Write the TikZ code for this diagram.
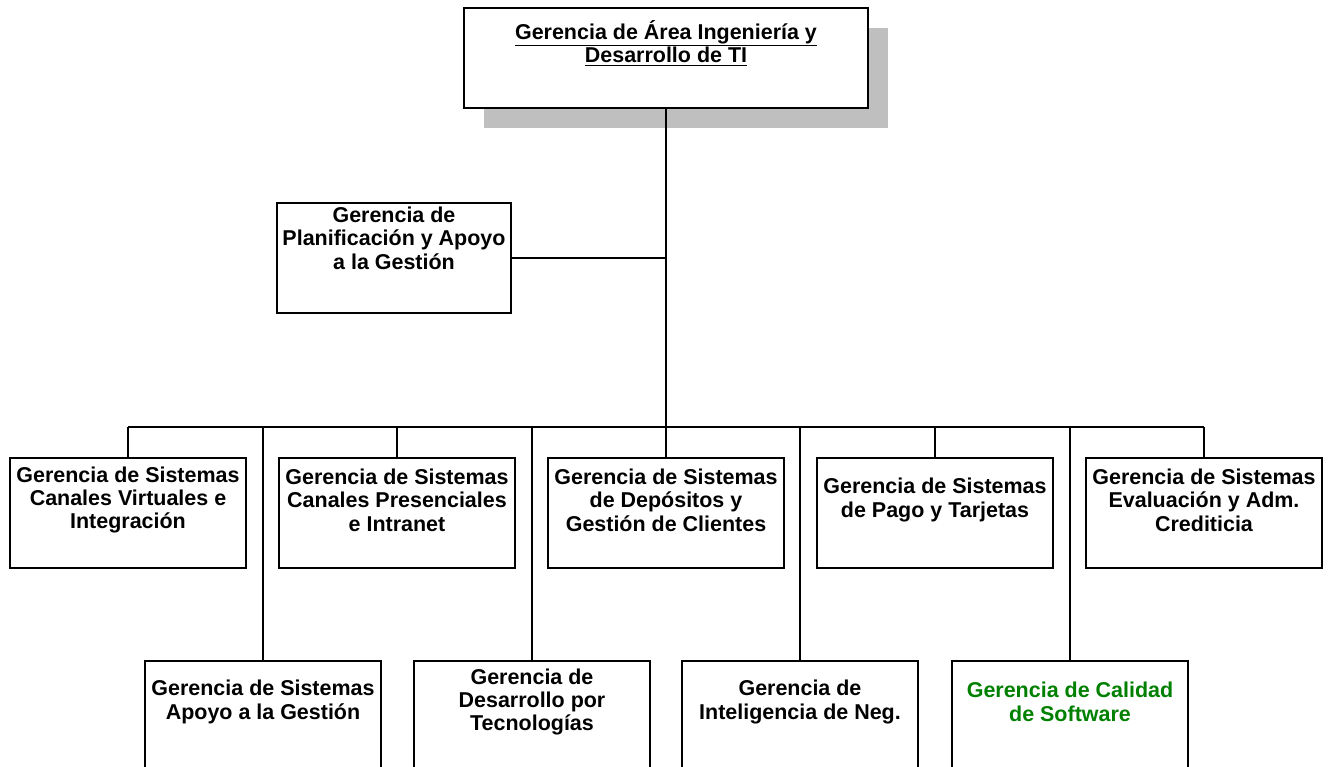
\documentclass[tikz,border=0pt]{standalone}
\usepackage{fontspec}
\setmainfont{Liberation Sans}
\newlength{\pxu}\setlength{\pxu}{0.75pt}
\begin{document}
\begin{tikzpicture}[x=0.75pt,y=-0.75pt,
  box/.style={draw=black,line width=1.5pt,fill=white,rectangle,inner sep=0pt},
  rowone/.style={box,minimum width=236\pxu,minimum height=110\pxu},
  rowtwo/.style={box,minimum width=236\pxu,minimum height=112\pxu},
  txt/.style={align=center,font=\fontsize{16.1}{17.6}\selectfont\bfseries,inner sep=0pt},
  conn/.style={draw=black,line width=1.5pt},
  shadowbox/.style={fill=black!25,draw=none}]
\useasboundingbox (0,0) rectangle (1332,767);
\clip (0,0) rectangle (1332,767);
% shadow and top box
\fill[shadowbox] (484,28) rectangle (888,128);
\node[box,minimum width=404\pxu,minimum height=100\pxu] (top) at (666,58) {};
\node[txt,anchor=center] (toptxt) at (666,43) {\underline{Gerencia de Área Ingeniería y}\\\underline{Desarrollo de TI}};
% planning
\node[box,minimum width=234\pxu,minimum height=110\pxu] (plan) at (394,258) {};
\node[txt] (plantxt) at (394,238) {Gerencia de\\Planificación y Apoyo\\a la Gestión};
% bus
\coordinate (bus) at (666,427);
\coordinate (busL) at (128,427);
\coordinate (busR) at (1204,427);
% row one
\node[rowone] (r1) at (128,513) {};
\node[rowone] (r2) at (397,513) {};
\node[rowone] (r3) at (666,513) {};
\node[rowone] (r4) at (935,513) {};
\node[rowone] (r5) at (1204,513) {};
\node[txt] (t1) at (128,500) {Gerencia de Sistemas\\Canales Virtuales e\\Integración};
\node[txt] (t2) at (397,500) {Gerencia de Sistemas\\Canales Presenciales\\e Intranet};
\node[txt] (t3) at (666,500) {Gerencia de Sistemas\\de Depósitos y\\Gestión de Clientes};
\node[txt] (t4) at (935,500) {Gerencia de Sistemas\\de Pago y Tarjetas};
\node[txt] (t5) at (1204,500) {Gerencia de Sistemas\\Evaluación y Adm.\\Crediticia};
% row two
\node[rowtwo] (s1) at (263,717) {};
\node[rowtwo] (s2) at (532,717) {};
\node[rowtwo] (s3) at (800,717) {};
\node[rowtwo] (s4) at (1070,717) {};
\node[txt] (u1) at (263,702) {Gerencia de Sistemas\\Apoyo a la Gestión};
\node[txt] (u2) at (532,702) {Gerencia de\\Desarrollo por\\Tecnologías};
\node[txt] (u3) at (800,702) {Gerencia de\\Inteligencia de Neg.};
\node[txt,text={rgb,255:red,0;green,128;blue,0}] (u4) at (1070,702) {Gerencia de Calidad\\de Software};
% connectors
\draw[conn] (top.south) -- (bus);
\draw[conn] (plan.east) -- (plan.east -| top.south);
\draw[conn] (busL) -- (busR);
\foreach \n in {r1,r2,r3,r4,r5}{\draw[conn] (\n.north) -- (\n.north |- bus);}
\foreach \n in {s1,s2,s3,s4}{\draw[conn] (\n.north) -- (\n.north |- bus);}
\end{tikzpicture}
\end{document}
